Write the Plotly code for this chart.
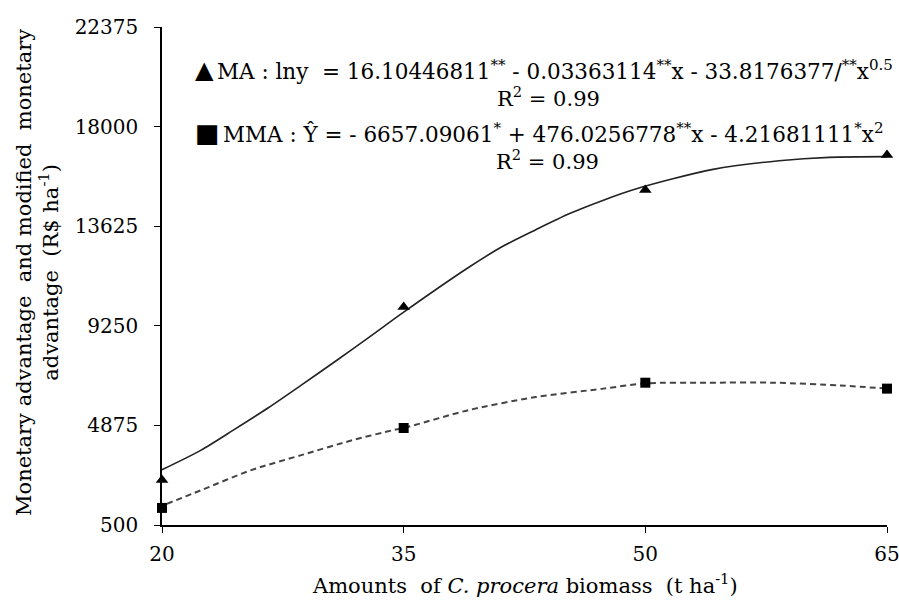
import plotly.graph_objects as go

# Observed data
amounts = [20, 35, 50, 65]
ma_values = [2480, 10080, 15210, 16750]
mma_values = [1250, 4760, 6750, 6490]

# Fitted curves
ma_fit_x = [20, 22.4, 24.5, 26.6, 28.6, 30.7, 32.8, 35, 39, 41.1, 43.2, 45.3, 47.4, 49.5, 54.2, 58.3, 61.4, 65]
ma_fit_y = [2930, 3780, 4700, 5650, 6620, 7660, 8720, 9850, 11800, 12720, 13470, 14180, 14770, 15280, 16120, 16500, 16650, 16680]
mma_fit_x = [20.3, 22.4, 25.5, 28.6, 31.8, 34.3, 35, 39, 43.2, 47.4, 50, 53.8, 58, 62.1, 65]
mma_fit_y = [1430, 2020, 2900, 3560, 4220, 4660, 4760, 5540, 6120, 6490, 6720, 6750, 6750, 6630, 6490]

y_ticks = [500, 4875, 9250, 13625, 18000, 22375]
x_ticks = [20, 35, 50, 65]

FONT = "DejaVu Serif"
W, H = 899, 603
L, R, T, B = 162, 12, 27, 78
pw, ph = W - L - R, H - T - B

def px(x):
    return (x - L) / pw

def py(y):
    return (H - B - y) / ph

fig = go.Figure()
fig.add_trace(go.Scatter(x=ma_fit_x, y=ma_fit_y, mode="lines",
                         line=dict(color="#222222", width=1.6, shape="spline", smoothing=0.8),
                         hoverinfo="skip", showlegend=False))
fig.add_trace(go.Scatter(x=mma_fit_x, y=mma_fit_y, mode="lines",
                         line=dict(color="#444444", width=2, dash="6px,4px", shape="spline", smoothing=0.8),
                         hoverinfo="skip", showlegend=False))
fig.add_trace(go.Scatter(x=amounts, y=ma_values, mode="markers",
                         marker=dict(symbol="triangle-up", size=11, color="black"),
                         name="MA", showlegend=False, cliponaxis=False))
fig.add_trace(go.Scatter(x=amounts, y=mma_values, mode="markers",
                         marker=dict(symbol="square", size=10, color="black"),
                         name="MMA", showlegend=False, cliponaxis=False))

axis_font = dict(family=FONT, size=20, color="black")
fig.update_layout(
    width=W, height=H,
    margin=dict(l=L, r=R, t=T, b=B, autoexpand=False),
    paper_bgcolor="white", plot_bgcolor="white",
    font=axis_font,
    xaxis=dict(range=[20, 65], tickvals=x_ticks, ticktext=[str(v) for v in x_ticks],
               showgrid=False, zeroline=False, showline=True, linecolor="black", linewidth=1.5,
               ticks="outside", ticklen=6, tickwidth=1.2, tickcolor="black", tickfont=axis_font,
               ticklabelstandoff=4, ticklabeloverflow="allow", automargin=False),
    yaxis=dict(range=[500, 22375], tickvals=y_ticks, ticktext=[str(v) for v in y_ticks],
               showgrid=False, zeroline=False, showline=True, linecolor="black", linewidth=1.5,
               ticks="outside", ticklen=6, tickwidth=1.2, tickcolor="black", tickfont=axis_font,
               ticklabelstandoff=12, ticklabeloverflow="allow", automargin=False),
)

tf = dict(family=FONT, size=21.5, color="black")
tf2 = dict(family=FONT, size=21, color="black")
ann = [
    dict(text="▲", x=px(204), y=py(70), font=dict(family="DejaVu Sans", size=24, color="black")),
    dict(text="MA : lny  = 16.10446811<sup>**</sup> - 0.03363114<sup>**</sup>x - 33.8176377/<sup>**</sup>x<sup>0.5</sup>",
         x=px(215), y=py(70), xanchor="left", font=tf),
    dict(text="R<sup>2</sup> = 0.99", x=px(548), y=py(97), font=tf2),
    dict(text="■", x=px(207), y=py(133), font=dict(family="DejaVu Sans", size=26, color="black")),
    dict(text="MMA : Ŷ = - 6657.09061<sup>*</sup> + 476.0256778<sup>**</sup>x - 4.21681111<sup>*</sup>x<sup>2</sup>",
         x=px(221), y=py(133), xanchor="left", font=tf),
    dict(text="R<sup>2</sup> = 0.99", x=px(547), y=py(160), font=tf2),
    dict(text="Amounts  of <i>C. procera</i> biomass  (t ha<sup>-1</sup>)", x=px(525), y=py(584), font=tf2),
    dict(text="Monetary advantage  and modified  monetary<br>advantage  (R$ ha<sup>-1</sup>)",
         x=px(37), y=py(273), textangle=-90, font=tf2),
]
for a in ann:
    a.setdefault("xanchor", "center")
    a["yanchor"] = "middle"
    a["xref"] = "paper"
    a["yref"] = "paper"
    a["showarrow"] = False
fig.update_layout(annotations=ann)

fig.write_html("out.html")
